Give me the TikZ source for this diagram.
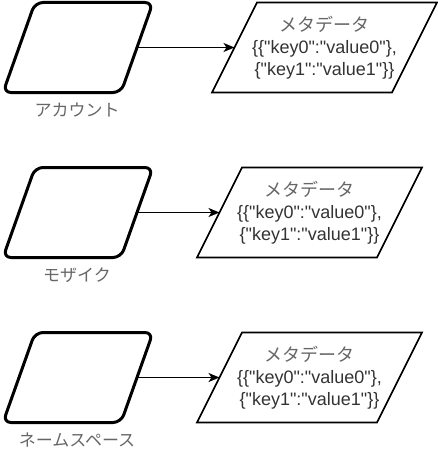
\documentclass[tikz,border=0pt]{standalone}
\usepackage{fontspec}
\setmainfont{Liberation Sans}[Ligatures=TeXOff]
\newfontfamily\jp{Noto Sans CJK JP}
\usetikzlibrary{arrows.meta}
\begin{document}
\begin{tikzpicture}[x=1pt,y=-1pt,
  srcbox/.style={draw=black, line width=3pt, rounded corners=8pt, line join=round},
  metabox/.style={draw=black, line width=1.6pt},
  txt/.style={text=black!80, align=center, font=\fontsize{18}{22}\selectfont},
  lbl/.style={text=black!60, font=\jp\fontsize{17}{20}\selectfont},
  arr/.style={line width=1.7pt, -{Stealth[length=11pt,width=9pt,inset=3pt]}}]
\useasboundingbox (0,0) rectangle (438,452);
\foreach \n/\t/\s/\l in {a/2.5/15/アカウント, b/167.5/0/モザイク, c/332.5/0/ネームスペース} {
  \draw[srcbox] (94,\t) -- (153,\t) -- (121,\t+90) -- (3,\t+90) -- (35,\t) -- cycle;
  \coordinate (\n-r) at (137,\t+45);
  \node[lbl] (\n-lab) at (77,\t+108) {\l};
  \draw[metabox] (242+\s,\t) -- (422+\s,\t) -- (377+\s,\t+90) -- (197+\s,\t+90) -- cycle;
  \coordinate (\n-ml) at (219.5+\s,\t+45);
  \node[txt] (\n-meta) at (309.5+\s,\t+45) {{\jp\color{black!60}メタデータ}\\\{\{"key0":"value0"\},\\\{"key1":"value1"\}\}};
  \draw[arr] (\n-r) -- (\n-ml);
}
\end{tikzpicture}
\end{document}
